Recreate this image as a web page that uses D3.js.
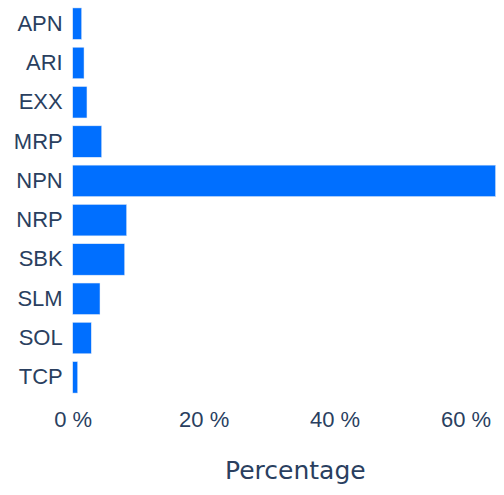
<!DOCTYPE html>
<html>
<head>
<meta charset="utf-8">
<script src="https://cdn.jsdelivr.net/npm/d3@7"></script>
<style>
  body { margin: 0; background: #fff; }
  svg { display: block; font-family: "DejaVu Sans", sans-serif; }
</style>
</head>
<body>
<svg id="chart" width="504" height="495"></svg>
<script>
// Share of each ticker (percent)
const tickers = ['APN', 'ARI', 'EXX', 'MRP', 'NPN', 'NRP', 'SBK', 'SLM', 'SOL', 'TCP'];
const percentages = [1.37, 1.73, 2.18, 4.43, 64.6, 8.24, 7.94, 4.17, 2.84, 0.76];
const xTicks = [0, 20, 40, 60];
const xTitle = 'Percentage';

const data = tickers.map((t, i) => ({ ticker: t, pct: percentages[i] }));

const svg = d3.select('#chart');

// plot area (right side runs past the visible edge, as in the reference)
const plot = { left: 72.7, right: 518, top: 4, bottom: 397 };

const x = d3.scaleLinear()
    .domain([0, d3.max(percentages) * 1.053])
    .range([plot.left, plot.right]);

const y = d3.scaleBand()
    .domain(tickers)
    .range([plot.top, plot.bottom])
    .paddingInner(0.2)
    .paddingOuter(0.1);

const textColor = '#2a3f5f';

// bars
svg.append('g')
    .selectAll('rect')
    .data(data)
    .join('rect')
    .attr('x', x(0))
    .attr('y', d => y(d.ticker))
    .attr('width', d => x(d.pct) - x(0))
    .attr('height', y.bandwidth())
    .attr('fill', '#006fff')
    .attr('stroke', '#e5ecf6')
    .attr('stroke-width', 0.5);

// y axis
const yAxis = svg.append('g')
    .attr('transform', `translate(${plot.left},0)`)
    .call(d3.axisLeft(y).tickSize(0).tickPadding(10));
yAxis.select('.domain').remove();
yAxis.selectAll('text')
    .attr('fill', textColor)
    .style('font-size', '22px');

// x axis
const xAxis = svg.append('g')
    .attr('transform', `translate(0,${plot.bottom})`)
    .call(d3.axisBottom(x).tickValues(xTicks).tickSize(0).tickPadding(14)
        .tickFormat(d => d + ' %'));
xAxis.select('.domain').remove();
xAxis.selectAll('text')
    .attr('fill', textColor)
    .style('font-size', '22px');

// axis title
svg.append('text')
    .attr('x', (plot.left + plot.right) / 2)
    .attr('y', 479)
    .attr('text-anchor', 'middle')
    .attr('fill', textColor)
    .style('font-size', '25px')
    .text(xTitle);
</script>
</body>
</html>
